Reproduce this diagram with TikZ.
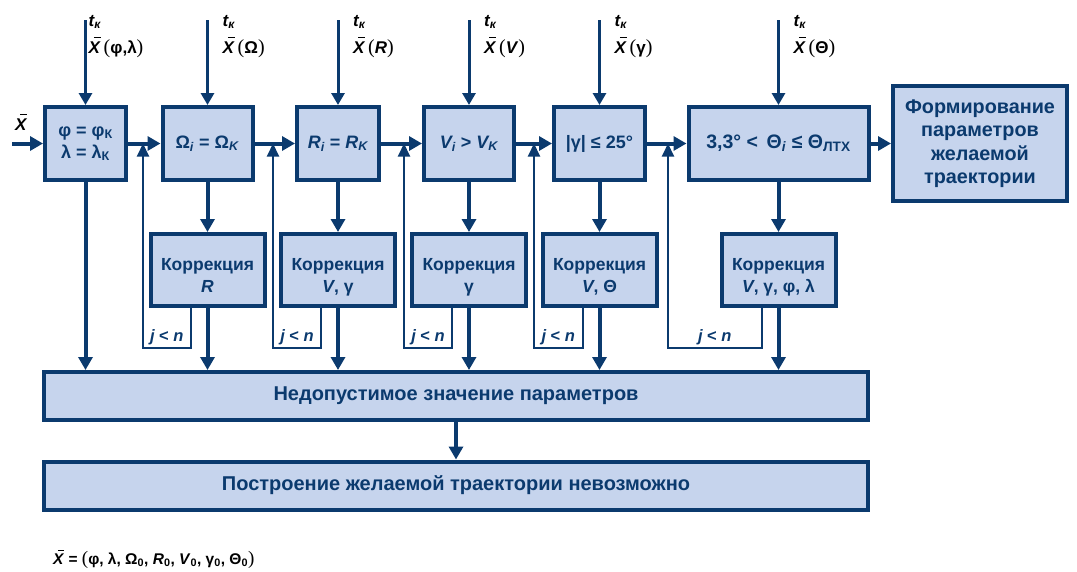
\documentclass[tikz,border=0pt]{standalone}
\usepackage{fontspec}
\setmainfont{Liberation Sans}
\newfontfamily\serifp{Liberation Serif}
\usetikzlibrary{arrows.meta}
\definecolor{navy}{HTML}{0B3A6E}
\definecolor{boxfill}{HTML}{C6D4ED}
\newcommand\Xb{\makebox[0pt][l]{\hspace{0.3em}\rule[0.86em]{0.42em}{0.07em}}\textit{X}}
\newcommand\lpar{{\serifp\mdseries\upshape\fontsize{20}{20}\selectfont(}}
\newcommand\rpar{{\serifp\mdseries\upshape\fontsize{20}{20}\selectfont)}}
\newcommand\sbs[1]{\textsubscript{#1}}
\newcommand\corr[1]{\raisebox{-11pt}[0pt][0pt]{\begin{tabular}{@{}c@{}}Коррекция\\#1\end{tabular}}}
\tikzset{
  box/.style={draw=navy, fill=boxfill, line width=4pt, inner sep=0pt, align=center,
    text=navy, font=\bfseries\fontsize{18}{22}\selectfont},
  cbox/.style={box, minimum width=114pt, minimum height=72pt, font=\bfseries\fontsize{17.5}{22}\selectfont},
  wbox/.style={box, minimum width=824pt, minimum height=48pt, font=\bfseries\fontsize{20}{23}\selectfont},
  arrA/.style={draw=navy, line width=4pt, -{Triangle[length=13pt,width=14pt]}},
  arrI/.style={draw=navy, line width=3pt, -{Triangle[length=12pt,width=13pt]}},
  fb/.style={draw=navy, line width=2pt, -{Triangle[length=13pt,width=12pt]}},
  jlab/.style={text=navy, font=\bfseries\itshape\fontsize{16.5}{18}\selectfont, inner sep=2pt, anchor=south},
  tlab/.style={text=black, font=\bfseries\fontsize{17}{18}\selectfont, inner sep=0pt, anchor=base west},
}
\begin{document}
\begin{tikzpicture}[x=1pt,y=-1pt]
\useasboundingbox (0,0) rectangle (1077,571);
% top boxes
\node[box, minimum width=81pt, minimum height=73pt] (b1) at (85.5,143.5) {φ = φ\sbs{К}\\λ = λ\sbs{К}};
\node[box, minimum width=90pt, minimum height=73pt] (b2) at (207.5,143.5) {Ω\sbs{\textit{i}} = Ω\sbs{\textit{K}}};
\node[box, minimum width=82pt, minimum height=73pt] (b3) at (338,143.5) {\textit{R\sbs{i}} = \textit{R\sbs{K}}};
\node[box, minimum width=90pt, minimum height=73pt] (b4) at (469,143.5) {\textit{V\sbs{i}} > \textit{V\sbs{K}}};
\node[box, minimum width=91pt, minimum height=73pt] (b5) at (599.5,143.5) {|γ| ≤ 25°};
\node[box, minimum width=180pt, minimum height=73pt, font=\bfseries\fontsize{19.5}{22}\selectfont] (b6) at (778.5,143.5) {3,3° <\, Θ\sbs{\textit{i}} ≤ Θ\sbs{ЛТХ}};
\node[box, minimum width=174pt, minimum height=115pt, font=\bfseries\fontsize{19.8}{23.5}\selectfont] (b7) at (980,143.5) {Формирование\\параметров\\желаемой\\траектории};
% correction boxes
\node[cbox] (cA) at (207.5,270) {\corr{\textit{R}}};
\node[cbox] (cB) at (338,270) {\corr{\textit{V}, γ}};
\node[cbox] (cC) at (469,270) {\corr{γ}};
\node[cbox] (cD) at (599.5,270) {\corr{\textit{V}, Θ}};
\node[cbox] (cE) at (778.5,270) {\corr{\textit{V}, γ, φ, λ}};
% wide boxes
\node[wbox] (w1) at (456,396) {Недопустимое значение параметров};
\node[wbox] (w2) at (456,485.5) {Построение желаемой траектории невозможно};
% input coordinates
\coordinate (x0) at (12,143.5);
\foreach \b in {1,...,6}{\coordinate (i\b) at ([yshift=85pt]b\b.north);}
\coordinate (j1) at (143,143.5);
\coordinate (j2) at (273,143.5);
\coordinate (j3) at (404,143.5);
\coordinate (j4) at (534,143.5);
\coordinate (j5) at (668,143.5);
% top labels
\node[tlab] (tl1) at ([shift={(3pt,-6pt)}]i1) {\textit{t\sbs{к}}};
\node[tlab] (xl1) at ([shift={(3pt,-33pt)}]i1) {\Xb\,\lpar φ,λ\rpar};
\foreach \b/\t in {2/Ω,3/\textit{R},4/\textit{V},5/γ,6/Θ}{
  \node[tlab] (tl\b) at ([shift={(15pt,-6pt)}]i\b) {\textit{t\sbs{к}}};
  \node[tlab] (xl\b) at ([shift={(15pt,-33pt)}]i\b) {\Xb\,\lpar\t\rpar};
}
\node[tlab] (xl0) at (15,130) {\Xb};
% input arrows
\foreach \b in {1,...,6}{\draw[arrI] (i\b) -- (b\b.north);}
\draw[arrA] (x0) -- (b1.west);
% chain arrows
\draw[arrA] (b1.east) -- (b2.west);
\draw[arrA] (b2.east) -- (b3.west);
\draw[arrA] (b3.east) -- (b4.west);
\draw[arrA] (b4.east) -- (b5.west);
\draw[arrA] (b5.east) -- (b6.west);
\draw[arrA] (b6.east) -- (b7.west);
% to corrections
\draw[arrA] (b2.south) -- (cA.north);
\draw[arrA] (b3.south) -- (cB.north);
\draw[arrA] (b4.south) -- (cC.north);
\draw[arrA] (b5.south) -- (cD.north);
\draw[arrA] (b6.south) -- (cE.north);
% to wide box
\draw[arrA] (b1.south) -- (b1.south |- w1.north);
\foreach \c in {A,B,C,D,E}{\draw[arrA] (c\c.south) -- (c\c.south |- w1.north);}
\draw[arrA] (w1.south) -- (w2.north);
% feedback loops
\draw[fb] ([xshift=-17pt]cA.south) -- ++(0,40) -| node[jlab, pos=0.25] {j {\upshape<} n} (j1);
\draw[fb] ([xshift=-17pt]cB.south) -- ++(0,40) -| node[jlab, pos=0.25] {j {\upshape<} n} (j2);
\draw[fb] ([xshift=-17pt]cC.south) -- ++(0,40) -| node[jlab, pos=0.25] {j {\upshape<} n} (j3);
\draw[fb] ([xshift=-17pt]cD.south) -- ++(0,40) -| node[jlab, pos=0.25] {j {\upshape<} n} (j4);
\draw[fb] ([xshift=-17pt]cE.south) -- ++(0,40) -| node[jlab, pos=0.25] {j {\upshape<} n} (j5);
% bottom formula
\node[tlab, font=\bfseries\fontsize{15.5}{16}\selectfont] (form) at (53,564) {\Xb\ = {\serifp\mdseries\fontsize{19}{19}\selectfont(}φ, λ, Ω\sbs{0}, \textit{R}\sbs{0}, \textit{V}\sbs{0}, γ\sbs{0}, Θ\sbs{0}{\serifp\mdseries\fontsize{19}{19}\selectfont)}};
\end{tikzpicture}
\end{document}
